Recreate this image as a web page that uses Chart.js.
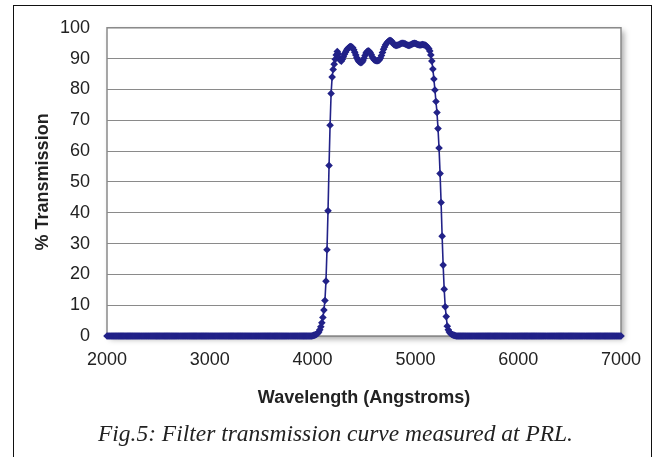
<!DOCTYPE html>
<html><head><meta charset="utf-8">
<script src="https://cdn.jsdelivr.net/npm/chart.js@4/dist/chart.umd.min.js"></script>
<style>
html,body{margin:0;padding:0;background:#fff;width:657px;height:457px;overflow:hidden;}
#frame{position:absolute;left:13px;top:5px;width:639px;height:480px;border:1px solid #111;box-sizing:border-box;}
#wrap{position:absolute;left:0;top:0;width:657px;height:457px;}
#caption{position:absolute;left:98px;top:421px;line-height:24px;white-space:nowrap;font-family:"Liberation Serif",serif;font-style:italic;font-size:22px;color:#222;}
</style></head><body>
<div id="frame"></div>
<div id="wrap"><canvas id="c" width="657" height="457"></canvas></div>
<div id="caption">Fig.5: Filter transmission curve measured at PRL.</div>
<script>
// Wavelength samples (Angstroms)
const wavelengths = [
2000,2010,2020,2030,2040,2050,2060,2070,2080,2090,
2100,2110,2120,2130,2140,2150,2160,2170,2180,2190,
2200,2210,2220,2230,2240,2250,2260,2270,2280,2290,
2300,2310,2320,2330,2340,2350,2360,2370,2380,2390,
2400,2410,2420,2430,2440,2450,2460,2470,2480,2490,
2500,2510,2520,2530,2540,2550,2560,2570,2580,2590,
2600,2610,2620,2630,2640,2650,2660,2670,2680,2690,
2700,2710,2720,2730,2740,2750,2760,2770,2780,2790,
2800,2810,2820,2830,2840,2850,2860,2870,2880,2890,
2900,2910,2920,2930,2940,2950,2960,2970,2980,2990,
3000,3010,3020,3030,3040,3050,3060,3070,3080,3090,
3100,3110,3120,3130,3140,3150,3160,3170,3180,3190,
3200,3210,3220,3230,3240,3250,3260,3270,3280,3290,
3300,3310,3320,3330,3340,3350,3360,3370,3380,3390,
3400,3410,3420,3430,3440,3450,3460,3470,3480,3490,
3500,3510,3520,3530,3540,3550,3560,3570,3580,3590,
3600,3610,3620,3630,3640,3650,3660,3670,3680,3690,
3700,3710,3720,3730,3740,3750,3760,3770,3780,3790,
3800,3810,3820,3830,3840,3850,3860,3870,3880,3890,
3900,3910,3920,3930,3940,3950,3960,3970,3980,3990,
4000,4010,4020,4030,4040,4050,4060,4070,4080,4090,
4100,4110,4120,4130,4140,4150,4160,4170,4180,4190,
4200,4210,4220,4230,4240,4250,4260,4270,4280,4290,
4300,4310,4320,4330,4340,4350,4360,4370,4380,4390,
4400,4410,4420,4430,4440,4450,4460,4470,4480,4490,
4500,4510,4520,4530,4540,4550,4560,4570,4580,4590,
4600,4610,4620,4630,4640,4650,4660,4670,4680,4690,
4700,4710,4720,4730,4740,4750,4760,4770,4780,4790,
4800,4810,4820,4830,4840,4850,4860,4870,4880,4890,
4900,4910,4920,4930,4940,4950,4960,4970,4980,4990,
5000,5010,5020,5030,5040,5050,5060,5070,5080,5090,
5100,5110,5120,5130,5140,5150,5160,5170,5180,5190,
5200,5210,5220,5230,5240,5250,5260,5270,5280,5290,
5300,5310,5320,5330,5340,5350,5360,5370,5380,5390,
5400,5410,5420,5430,5440,5450,5460,5470,5480,5490,
5500,5510,5520,5530,5540,5550,5560,5570,5580,5590,
5600,5610,5620,5630,5640,5650,5660,5670,5680,5690,
5700,5710,5720,5730,5740,5750,5760,5770,5780,5790,
5800,5810,5820,5830,5840,5850,5860,5870,5880,5890,
5900,5910,5920,5930,5940,5950,5960,5970,5980,5990,
6000,6010,6020,6030,6040,6050,6060,6070,6080,6090,
6100,6110,6120,6130,6140,6150,6160,6170,6180,6190,
6200,6210,6220,6230,6240,6250,6260,6270,6280,6290,
6300,6310,6320,6330,6340,6350,6360,6370,6380,6390,
6400,6410,6420,6430,6440,6450,6460,6470,6480,6490,
6500,6510,6520,6530,6540,6550,6560,6570,6580,6590,
6600,6610,6620,6630,6640,6650,6660,6670,6680,6690,
6700,6710,6720,6730,6740,6750,6760,6770,6780,6790,
6800,6810,6820,6830,6840,6850,6860,6870,6880,6890,
6900,6910,6920,6930,6940,6950,6960,6970,6980,6990,
7000];

// % Transmission at each wavelength
const transmission = [
0,0,0,0,0,0,0,0,0,0,
0,0,0,0,0,0,0,0,0,0,
0,0,0,0,0,0,0,0,0,0,
0,0,0,0,0,0,0,0,0,0,
0,0,0,0,0,0,0,0,0,0,
0,0,0,0,0,0,0,0,0,0,
0,0,0,0,0,0,0,0,0,0,
0,0,0,0,0,0,0,0,0,0,
0,0,0,0,0,0,0,0,0,0,
0,0,0,0,0,0,0,0,0,0,
0,0,0,0,0,0,0,0,0,0,
0,0,0,0,0,0,0,0,0,0,
0,0,0,0,0,0,0,0,0,0,
0,0,0,0,0,0,0,0,0,0,
0,0,0,0,0,0,0,0,0,0,
0,0,0,0,0,0,0,0,0,0,
0,0,0,0,0,0,0,0,0,0,
0,0,0,0,0,0,0,0,0,0,
0,0,0,0,0,0,0,0,0,0,
0,0,0,0,0,0,0,0,0,0,
0.1,0.2,0.3,0.4,0.6,0.9,1.3,2.0,3.0,4.3,
6.0,8.4,11.5,17.8,28.0,40.6,55.3,68.4,78.7,84.0,
86.5,88.2,89.8,91.2,92.3,91.6,90.3,89.4,89.2,89.8,
90.6,91.4,92.1,92.7,93.2,93.5,93.8,93.9,93.8,93.5,
92.9,92.1,91.2,90.3,89.6,89.1,88.8,88.7,88.8,89.3,
90.1,91.0,91.8,92.3,92.5,92.4,92.0,91.3,90.6,90.0,
89.6,89.4,89.3,89.3,89.4,89.6,90.2,91.0,92.0,93.0,
93.8,94.5,95.0,95.4,95.7,95.9,95.9,95.6,95.1,94.6,
94.4,94.3,94.3,94.4,94.5,94.7,94.9,95.0,95.0,94.9,
94.8,94.6,94.4,94.3,94.3,94.4,94.6,94.8,94.9,95.0,
94.9,94.8,94.6,94.5,94.4,94.4,94.5,94.6,94.5,94.4,
94.3,94.0,93.6,93.2,92.5,91.2,89.2,86.6,83.4,79.8,
76.1,72.5,67.3,61.0,52.7,43.3,32.4,23.0,15.2,9.5,
6.3,3.2,2.0,1.3,0.9,0.6,0.4,0.3,0.2,0.1,
0,0,0,0,0,0,0,0,0,0,
0,0,0,0,0,0,0,0,0,0,
0,0,0,0,0,0,0,0,0,0,
0,0,0,0,0,0,0,0,0,0,
0,0,0,0,0,0,0,0,0,0,
0,0,0,0,0,0,0,0,0,0,
0,0,0,0,0,0,0,0,0,0,
0,0,0,0,0,0,0,0,0,0,
0,0,0,0,0,0,0,0,0,0,
0,0,0,0,0,0,0,0,0,0,
0,0,0,0,0,0,0,0,0,0,
0,0,0,0,0,0,0,0,0,0,
0,0,0,0,0,0,0,0,0,0,
0,0,0,0,0,0,0,0,0,0,
0,0,0,0,0,0,0,0,0,0,
0,0,0,0,0,0,0,0,0,0,
0];

const xTicks = [2000, 3000, 4000, 5000, 6000, 7000];
const yTicks = [0, 10, 20, 30, 40, 50, 60, 70, 80, 90, 100];
const xTitle = 'Wavelength (Angstroms)';
const yTitle = '% Transmission';

const navy = '#222288';
const gridGrey = '#8a8a8a';
const textCol = '#222222';

const plotFrame = {
  id: 'plotFrame',
  beforeDraw(chart) {
    const {ctx, chartArea: a} = chart;
    ctx.save();
    ctx.shadowColor = 'rgba(0,0,0,0.35)';
    ctx.shadowBlur = 6;
    ctx.shadowOffsetX = 3;
    ctx.shadowOffsetY = 3;
    ctx.fillStyle = '#fff';
    ctx.fillRect(a.left, a.top, a.right - a.left, a.bottom - a.top);
    ctx.restore();
  },
  beforeDatasetsDraw(chart) {
    const {ctx, chartArea: a} = chart;
    ctx.save();
    ctx.strokeStyle = gridGrey;
    ctx.lineWidth = 1.5;
    ctx.strokeRect(a.left, a.top, a.right - a.left, a.bottom - a.top);
    ctx.restore();
  }
};

const points = wavelengths.map((w, i) => ({x: w, y: transmission[i]}));

new Chart(document.getElementById('c'), {
  type: 'line',
  data: {
    datasets: [{
      data: points,
      borderColor: navy,
      borderWidth: 1.6,
      backgroundColor: navy,
      pointStyle: 'rectRot',
      pointRadius: 3.8,
      pointBorderWidth: 0,
      pointBackgroundColor: navy,
      tension: 0,
      clip: 6
    }]
  },
  options: {
    responsive: false,
    animation: false,
    devicePixelRatio: 1,
    layout: {padding: {left: 14, top: 17, right: 36, bottom: 45}},
    plugins: {legend: {display: false}, tooltip: {enabled: false}},
    scales: {
      x: {
        type: 'linear', min: 2000, max: 7000,
        afterBuildTicks: s => { s.ticks = xTicks.map(v => ({value: v})); },
        afterFit: s => { s.height = 76; },
        grid: {display: false, drawTicks: false},
        border: {display: false},
        ticks: {color: textCol, padding: 13, maxRotation: 0, callback: v => String(v),
                font: {family: 'Liberation Sans', size: 18}},
        title: {display: true, text: xTitle, color: textCol, padding: {top: 0, bottom: 3},
                font: {family: 'Liberation Sans', size: 18, weight: 'bold'}}
      },
      y: {
        min: 0, max: 100,
        afterBuildTicks: s => { s.ticks = yTicks.map(v => ({value: v})); },
        afterFit: s => { s.width = 93; },
        grid: {color: gridGrey, lineWidth: 1, drawTicks: false},
        border: {display: false},
        ticks: {color: textCol, padding: 17, callback: v => String(v),
                font: {family: 'Liberation Sans', size: 18}},
        title: {display: true, text: yTitle, color: textCol, padding: {top: 18, bottom: 0},
                font: {family: 'Liberation Sans', size: 18, weight: 'bold'}}
      }
    }
  },
  plugins: [plotFrame]
});

// fit caption width to reference span
const cap = document.getElementById('caption');
const targetW = 475;
const w0 = cap.getBoundingClientRect().width;
cap.style.fontSize = (22 * targetW / w0).toFixed(2) + 'px';
</script>
</body></html>
